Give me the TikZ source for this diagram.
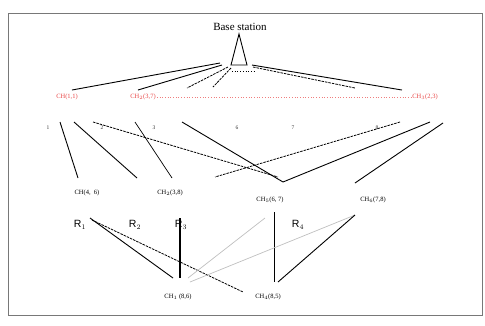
\documentclass[tikz,border=0pt]{standalone}
\usepackage{fontspec}
\setmainfont{Liberation Serif}
\newfontfamily\rfont{Liberation Sans}
\usetikzlibrary{positioning}
\definecolor{chred}{RGB}{232,70,70}
\definecolor{framegray}{RGB}{120,120,120}

\begin{document}
\begin{tikzpicture}[x=1pt,y=-1pt,every node/.style={inner sep=1pt},
  chlabel/.style={font=\fontsize{6.5}{7.5}\selectfont},
  headlabel/.style={chlabel,text=chred},
  numlabel/.style={font=\fontsize{5.5}{6.5}\selectfont,text=black!80},
  rlabel/.style={font=\rfont\fontsize{10.5}{12}\selectfont},
  link/.style={line width=0.9pt},
  dlink/.style={line width=0.8pt,dash pattern=on 2.5pt off 1pt},
  glink/.style={line width=0.7pt,gray!50}]
\useasboundingbox (0,0) rectangle (485,325);
\draw[framegray,line width=0.8pt] (8,13) rectangle (482,315);
% base station
\node[font=\fontsize{11}{13}\selectfont] (bs) at (240,27) {Base station};
\coordinate (apex) at (239,34);
\coordinate (bl) at (231,65);
\coordinate (br) at (247,65);
\draw[line width=0.9pt] (bl) -- (apex) -- (br) -- cycle;
% cluster heads
\node[headlabel] (h1) at (67,97) {CH(1,1)};
\node[headlabel] (h2) at (143,97) {CH$_2$(3,7)};
\node[headlabel] (h3) at (425,97) {CH$_3$(2,3)};
\draw[chred!70,dotted,line width=0.7pt] (h2.east) -- (h3.west);
% numbers
\node[numlabel] (n1) at (48,128) {1};
\node[numlabel] (n2) at (102,128) {2};
\node[numlabel] (n3) at (154,128) {3};
\node[numlabel] (n6) at (237,128) {6};
\node[numlabel] (n7) at (293,128) {7};
\node[numlabel] (n8) at (377,128) {8};
% members
\node[chlabel] (m1) at (87,193) {CH(4,\ \ 6)};
\node[chlabel] (m2) at (170,193) {CH$_2$(3,8)};
\node[chlabel] (m3) at (270,200) {CH$_5$(6, 7)};
\node[chlabel] (m4) at (373,200) {CH$_6$(7,8)};
\node[rlabel] (r1) at (80,225) {R$_1$};
\node[rlabel] (r2) at (135,225) {R$_2$};
\node[rlabel] (r3) at (181,225) {R$_3$};
\node[rlabel] (r4) at (298,225) {R$_4$};
\node[chlabel] (b1) at (178,297) {CH$_1$ (8,6)};
\node[chlabel] (b2) at (268,297) {CH$_4$(8,5)};
% line ends
\foreach \n/\x/\y in {s1/220/63,s2/222/65,s3/228/67,s4/231/68,s5/232/71,s6/253/67,s7/252/65,
  e1/72/90,e2/138/90,e3/187/88,e4/213/87,e5/256/71,e6/355/88,e7/402/90,
  u1/60/122,u2/74/122,u3/93/122,u4/135/122,u5/182/122,u6/400/122,u7/430/122,u8/443/123,
  v1/78/178,v2/137/178,v3/278/177,v4/172/178,v5/283/182,v6/215/177,v8/355/183,
  p1/90/218,p2/92/220,p3/180/218,p4/265/218,p5/274/212,p6/355/215,
  q1/173/278,q2/243/292,q3/180/278,q4/188/278,q5/274/282,q6/190/282,q7/278/282}
  \coordinate (\n) at (\x,\y);
% base station to heads
\draw[link] (s1) -- (e1);
\draw[link] (s2) -- (e2);
\draw[dlink] (s3) -- (e3);
\draw[dlink] (s4) -- (e4);
\draw[dotted,line width=0.7pt] (s5) -- (e5);
\draw[dlink] (s6) -- (e6);
\draw[link] (s7) -- (e7);
% heads to members
\draw[link] (u1) -- (v1);
\draw[link] (u2) -- (v2);
\draw[dlink] (u3) -- (v3);
\draw[line width=0.7pt] (u4) -- (v4);
\draw[link] (u5) -- (v5);
\draw[dlink] (u6) -- (v6);
\draw[link] (u7) -- (v5);
\draw[link] (u8) -- (v8);
% relays
\draw[link] (p1) -- (q1);
\draw[dlink] (p2) -- (q2);
\draw[line width=1.3pt] (p3) -- (q3);
\draw[glink] (p4) -- (q4);
\draw[line width=0.8pt] (p5) -- (q5);
\draw[glink] (p6) -- (q6);
\draw[link] (p6) -- (q7);
\end{tikzpicture}
\end{document}
